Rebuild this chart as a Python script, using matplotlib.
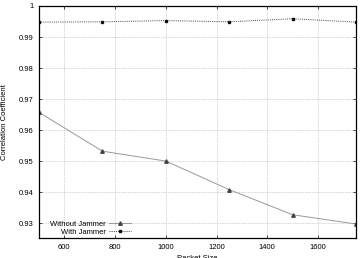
import matplotlib
matplotlib.use("Agg")
import matplotlib.pyplot as plt

packet_size = [500, 750, 1000, 1250, 1500, 1750]
without_jammer = [0.9657, 0.9532, 0.9500, 0.9408, 0.9327, 0.9297]
with_jammer = [0.9948, 0.9949, 0.9953, 0.9949, 0.9959, 0.9948]

xticks = [600, 800, 1000, 1200, 1400, 1600]
yticks = [0.93, 0.94, 0.95, 0.96, 0.97, 0.98, 0.99, 1.0]
yticklabels = ["0.93", "0.94", "0.95", "0.96", "0.97", "0.98", "0.99", "1"]

plt.rcParams["font.family"] = ["Liberation Sans", "DejaVu Sans"]
plt.rcParams["font.size"] = 5.5

fig = plt.figure(figsize=(3.6, 2.58), dpi=100)
ax = fig.add_axes([39 / 360, 20 / 258, 317 / 360, 232 / 258])

ax.plot(packet_size, without_jammer, color="#999999", lw=0.7, marker="^",
        ms=2.5, mfc="#444444", mec="#444444", label="Without Jammer")
ax.plot(packet_size, with_jammer, color="#444444", lw=0.7, ls=(0, (1, 1.2)),
        marker="s", ms=2, mfc="#111111", mec="#111111", label="With Jammer")

ax.set_xlim(500, 1750)
ax.set_ylim(0.9252, 1.0)
ax.set_xticks(xticks)
ax.set_yticks(yticks)
ax.set_yticklabels(yticklabels)
ax.grid(True, color="#aaaaaa", ls=(0, (1, 1.5)), lw=0.5)
ax.tick_params(direction="in", length=2.5, width=0.5, pad=4, top=True, right=True,
               labeltop=False, labelright=False)
for s in ax.spines.values():
    s.set_linewidth(0.9)

ax.set_xlabel("Packet Size", labelpad=3)
ax.set_ylabel("Correlation Coefficient", labelpad=8)

ax.legend(loc="lower left", bbox_to_anchor=(0.02, -0.01), markerfirst=False,
          frameon=False, handlelength=2.8, handletextpad=0.5, labelspacing=0.05,
          borderaxespad=0.2)

fig.savefig("out.png", dpi=100)
